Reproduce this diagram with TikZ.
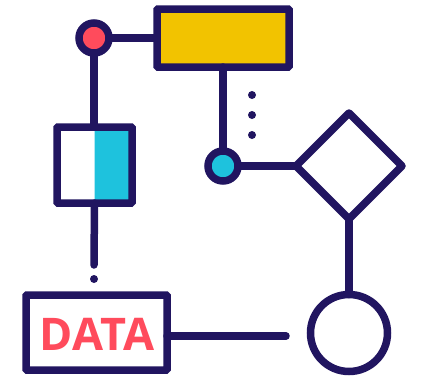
\documentclass[tikz,border=0pt]{standalone}
\usepackage{fontspec}
\setmainfont{Open Sans}
\usetikzlibrary{shapes.geometric}

\definecolor{navy}{HTML}{211560}
\definecolor{flowred}{HTML}{FF4B5C}
\definecolor{flowyellow}{HTML}{F2C300}
\definecolor{flowcyan}{HTML}{1EC2DD}

\begin{document}
\begin{tikzpicture}
	[x=1pt,y=-1pt,line width=7.5pt,draw=navy,
		box node/.style={rectangle,draw=navy,line width=7.5pt,inner sep=0pt,outer sep=0pt,rounded corners=1pt},
		joint node/.style={circle,draw=navy,line width=7.5pt,inner sep=0pt,outer sep=0pt,minimum size=30pt},
		link/.style={navy,line width=7.5pt,line cap=round},
		dot/.style={navy}]

	\useasboundingbox (0,0) rectangle (424,380);

	\node[box node,fill=flowyellow,minimum width=132pt,minimum height=58pt] (process) at (223,38) {};
	\node[joint node,fill=flowred] (start) at (94,38) {};
	\node[box node,minimum width=75pt,minimum height=76pt,
		path picture={\fill[flowcyan] (path picture bounding box.north) rectangle (path picture bounding box.south east);}] (store) at (94.5,165) {};
	\node[joint node,fill=flowcyan] (merge) at (223,166) {};
	\node[diamond,draw=navy,line width=7.5pt,line join=round,inner sep=0pt,outer sep=0pt,minimum size=106pt,aspect=1] (decision) at (349,166) {};
	\node[circle,draw=navy,line width=7.5pt,inner sep=0pt,outer sep=0pt,minimum size=77pt] (stop) at (349,333) {};
	\node[box node,minimum width=141pt,minimum height=75pt] (data) at (96.5,332.5) {};
	\node[text=flowred,font=\fontsize{45}{45}\selectfont\bfseries] (datatext) at (97,334) {DATA};
	\coordinate (storeend) at (94,265);
	\coordinate (dataend) at (286,336);
	% \node[joint node] (extra) at (252,115) {};

	\path[link]
	(start) edge (process)
	(start.south) edge (start.south |- store.north)
	(process) edge (merge)
	(merge) edge (decision)
	(decision) edge (stop)
	(store.south) edge (storeend)
	(data.east |- dataend) edge (dataend)
	;

	\fill[dot] (94,279) circle (4pt);
	\foreach \y in {95,115,135}
		\fill[dot] (252,\y) circle (4pt);

\end{tikzpicture}
\end{document}
